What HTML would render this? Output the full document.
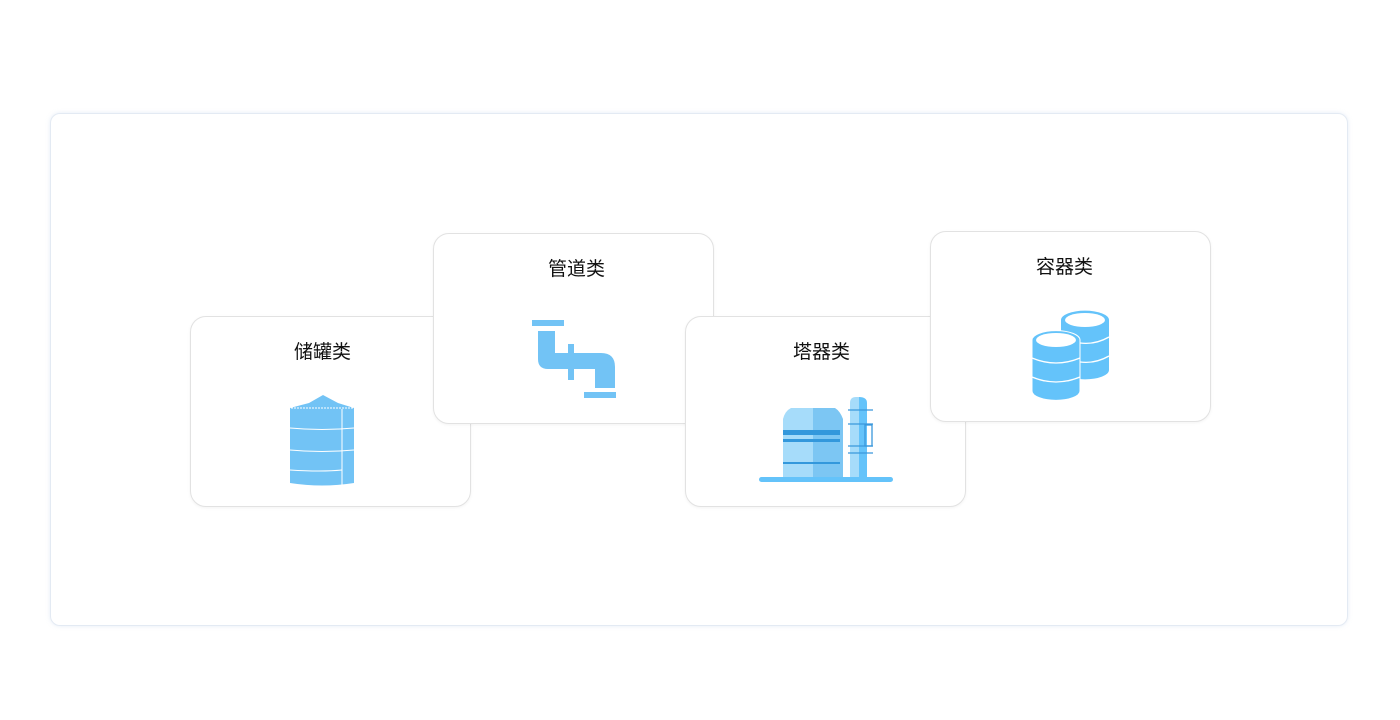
<!DOCTYPE html>
<html><head><meta charset="utf-8"><style>
body{margin:0;width:1400px;height:720px;background:#fff;position:relative;overflow:hidden;font-family:"Liberation Sans","Noto Sans CJK SC",sans-serif}
.outer{position:absolute;left:50px;top:113px;width:1296px;height:511px;border:1px solid #e3eaf3;border-radius:10px;box-shadow:0 0 4px rgba(180,200,230,.35)}
.card{position:absolute;width:279px;height:189px;background:#fff;border:1px solid #e2e2e2;border-radius:16px;box-shadow:0 1px 3px rgba(0,0,0,.05)}
.t{position:absolute;left:0;right:0;top:20px;text-align:center;font-size:19px;color:#111}
svg{position:absolute;left:0;top:0}
</style></head><body>
<div class="outer"></div>
<div class="card" style="left:190px;top:316px">
<div class="t" style="right:16px">储罐类</div>
<svg width="279" height="189">
<polygon points="132,78 118,86 99,91 163,91 147,86" fill="#72c3f5"/>
<path d="M99,91 h64 v75 q-32,5 -64,0z" fill="#72c3f5"/>
<line x1="100" y1="91" x2="162" y2="91" stroke="#fff" stroke-dasharray="2 1"/>
<path d="M99,111 q32,3 64,0 M99,133 q32,3 64,0 M99,153 q32,2 52,0" stroke="#fff" fill="none"/>
<line x1="151" y1="92" x2="151" y2="168" stroke="#fff"/>
</svg></div>
<div class="card" style="left:433px;top:233px">
<div class="t" style="left:6px">管道类</div>
<svg width="279" height="189">
<rect x="98" y="86" width="32" height="6" fill="#72c3f5"/>
<path d="M104,97 h17 v22 h46 q14,0 14,14 v21 h-20 v-19 h-47 q-10,0 -10,-10z" fill="#72c3f5"/>
<rect x="134" y="110" width="6" height="36" fill="#72c3f5"/>
<rect x="150" y="158" width="32" height="6" fill="#72c3f5"/>
</svg></div>
<div class="card" style="left:685px;top:316px">
<div class="t" style="right:8px">塔器类</div>
<svg width="279" height="189">
<path d="M97,160 v-58 q2,-8 8,-11 h22 v69z" fill="#a6dcfa"/>
<path d="M127,91 h22 q5,3 8,11 v58 h-30z" fill="#7cc6f3"/>
<rect x="97" y="113" width="57" height="5" fill="#3398dc"/>
<rect x="97" y="122" width="57" height="3" fill="#3398dc"/>
<rect x="97" y="145" width="57" height="2" fill="#3398dc"/>
<path d="M164,86 q0,-6 6,-6 h3 v80 h-9z" fill="#a6dcfa"/>
<path d="M173,80 q8,0 8,6 v74 h-8z" fill="#64c3fa"/>
<path d="M162,93h25M162,107h25M162,129h25M162,136h25" stroke="#3a98dc" stroke-width="1.3"/>
<rect x="179" y="108" width="7" height="21" fill="none" stroke="#3a98dc" stroke-width="1.3"/>
<rect x="73" y="160" width="134" height="5" rx="2.5" fill="#64c3fa"/>
</svg></div>
<div class="card" style="left:930px;top:231px">
<div class="t" style="right:12px">容器类</div>
<svg width="279" height="189">
<path d="M130,88 a23,9 0 0 1 48,0 v50 a23,9 0 0 1 -48,0z" fill="#64c3fa"/>
<ellipse cx="154" cy="88" rx="20" ry="7" fill="#fff"/>
<path d="M101,108 a23,9 0 0 1 48,0 v51 a23,9 0 0 1 -48,0z" fill="#64c3fa" stroke="#fff" stroke-width="1"/>
<ellipse cx="125" cy="108" rx="20" ry="7" fill="#fff"/>
<path d="M101,126 q24,10 48,0 M101,145 q24,10 48,0 M149,111 q15,2 29,-6 M149,130 q15,2 29,-6" stroke="#fff" fill="none" stroke-width="1.3"/>
</svg></div>
</body></html>
